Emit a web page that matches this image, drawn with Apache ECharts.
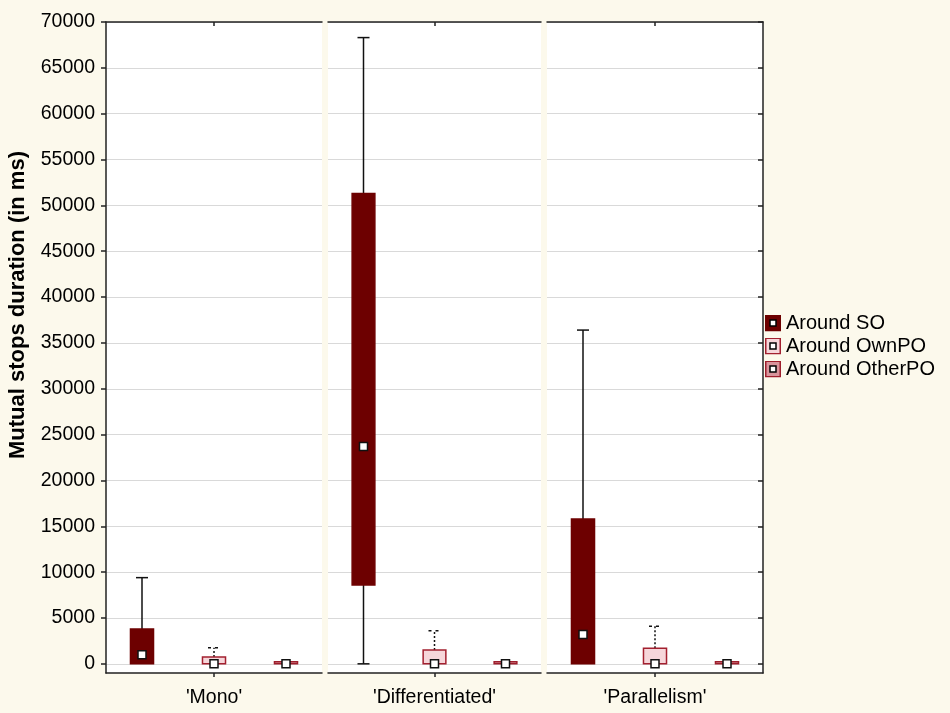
<!DOCTYPE html>
<html>
<head>
<meta charset="utf-8">
<script src="https://cdn.jsdelivr.net/npm/echarts@6/dist/echarts.min.js"></script>
<style>
html,body{margin:0;padding:0;background:#fcf9ec;}
#chart{width:950px;height:713px;}
</style>
</head>
<body>
<div id="chart"></div>
<script>
// ---- data ----
const panels = ["'Mono'", "'Differentiated'", "'Parallelism'"];
const groups = ['Around SO', 'Around OwnPO', 'Around OtherPO'];
const yTicks = [0, 5000, 10000, 15000, 20000, 25000, 30000, 35000, 40000, 45000, 50000, 55000, 60000, 65000, 70000];
const yTitle = 'Mutual stops duration (in ms)';

// per panel: Mono, Differentiated, Parallelism
const soLow  = [0, 0, 0];
const soQ1   = [0, 8600, 0];
const soMed  = [1000, 23700, 3200];
const soQ3   = [3800, 51300, 15800];
const soHigh = [9400, 68300, 36400];

const ownLow  = [0, 0, 0];
const ownQ1   = [0, 0, 0];
const ownMed  = [0, 0, 0];
const ownQ3   = [750, 1500, 1700];
const ownHigh = [1750, 3600, 4100];

const otherLow  = [0, 0, 0];
const otherQ1   = [0, 0, 0];
const otherMed  = [0, 0, 0];
const otherQ3   = [200, 80, 80];
const otherHigh = [200, 80, 80];

const stats = [
  [soLow, soQ1, soMed, soQ3, soHigh],
  [ownLow, ownQ1, ownMed, ownQ3, ownHigh],
  [otherLow, otherQ1, otherMed, otherQ3, otherHigh]
];

// ---- styles ----
const styles = [
  {fill: '#6d0000', stroke: '#6d0000', whiskerDash: null, capDash: null},
  {fill: '#f6d6da', stroke: '#a3202f', whiskerDash: [2, 2], capDash: [3, 4]},
  {fill: '#d8949c', stroke: '#9e1e2c', whiskerDash: null, capDash: null}
];
const FONT = 'Liberation Sans';

function iconSvg(fill, stroke) {
  const svg = '<svg xmlns="http://www.w3.org/2000/svg" width="16" height="17">' +
    '<rect x="0.75" y="0.75" width="14.5" height="15.5" fill="' + fill + '" stroke="' + stroke + '" stroke-width="1.5"/>' +
    '<rect x="5" y="5.5" width="6" height="6" fill="#ffffff" stroke="#000000" stroke-width="1.5"/></svg>';
  return 'image://data:image/svg+xml;utf8,' + encodeURIComponent(svg);
}

const grids = [
  {left: 106, top: 22, width: 216, height: 651},
  {left: 328, top: 22, width: 213, height: 651},
  {left: 547, top: 22, width: 216, height: 651}
];

const xAxes = [];
const yAxes = [];
const series = [];
const axisColor = '#222';

grids.forEach((g, p) => {
  xAxes.push({
    type: 'category', gridIndex: p, data: [0, 1, 2], position: 'bottom',
    axisLine: {show: true, onZero: false, lineStyle: {color: axisColor, width: 1.5}},
    axisTick: {show: true, alignWithLabel: true, interval: (i) => i === 1, length: 4,
      lineStyle: {color: axisColor, width: 1.5}},
    axisLabel: {
      interval: 0, margin: 15, fontSize: 19.5, color: '#000', fontFamily: FONT,
      formatter: (v, i) => (i === 1 ? panels[p] : '')
    },
    splitLine: {show: false}
  });
});
grids.forEach((g, p) => {
  xAxes.push({
    type: 'category', gridIndex: p, data: [0, 1, 2], position: 'top',
    axisLine: {show: true, onZero: false, lineStyle: {color: axisColor, width: 1.5}},
    axisTick: {show: true, inside: true, alignWithLabel: true, interval: (i) => i === 1, length: 4,
      lineStyle: {color: axisColor, width: 1.5}},
    axisLabel: {show: false},
    splitLine: {show: false}
  });
});

grids.forEach((g, p) => {
  yAxes.push({
    type: 'value', gridIndex: p, min: -1000, max: 70000, position: 'left',
    axisLine: {show: p === 0, onZero: false, lineStyle: {color: axisColor, width: 1.5}},
    axisTick: {show: p === 0, length: 5, customValues: yTicks, lineStyle: {color: axisColor, width: 1.5}},
    axisLabel: {show: p === 0, customValues: yTicks, fontSize: 19.5, color: '#000', margin: 11,
      fontFamily: FONT, formatter: v => String(v)},
    splitLine: {show: true, lineStyle: {color: '#d9d9d9', width: 1}}
  });
});
// right axis of last panel
yAxes.push({
  type: 'value', gridIndex: 2, position: 'right', min: -1000, max: 70000,
  axisLine: {show: true, onZero: false, lineStyle: {color: axisColor, width: 1.5}},
  axisTick: {show: true, inside: true, length: 5, customValues: yTicks, lineStyle: {color: axisColor, width: 1.5}},
  axisLabel: {show: false, customValues: yTicks},
  splitLine: {show: false}
});

function makeRender(st) {
  return function (params, api) {
    const c = api.value(0);
    const low = api.value(1), q1 = api.value(2), med = api.value(3), q3 = api.value(4), high = api.value(5);
    const w = api.size([1, 0])[0] * 0.32;
    const pHigh = api.coord([c, high]);
    const pQ3 = api.coord([c, q3]);
    const pQ1 = api.coord([c, q1]);
    const pLow = api.coord([c, low]);
    const pMed = api.coord([c, med]);
    const x = pQ3[0];
    const children = [];
    if (high > q3) {
      children.push({type: 'line', shape: {x1: x, y1: pQ3[1], x2: x, y2: pHigh[1]},
        style: {stroke: '#111', lineWidth: 1.5, lineDash: st.whiskerDash}});
      children.push({type: 'line', shape: {x1: x - 6, y1: pHigh[1], x2: x + 6, y2: pHigh[1]},
        style: {stroke: '#111', lineWidth: 1.5, lineDash: st.capDash}});
    }
    if (low < q1) {
      children.push({type: 'line', shape: {x1: x, y1: pQ1[1], x2: x, y2: pLow[1]},
        style: {stroke: '#111', lineWidth: 1.5, lineDash: st.whiskerDash}});
      children.push({type: 'line', shape: {x1: x - 6, y1: pLow[1], x2: x + 6, y2: pLow[1]},
        style: {stroke: '#111', lineWidth: 1.5, lineDash: st.capDash}});
    }
    const h = Math.max(pQ1[1] - pQ3[1], 2);
    children.push({type: 'rect', shape: {x: x - w / 2, y: pQ1[1] - h, width: w, height: h},
      style: {fill: st.fill, stroke: st.stroke, lineWidth: 1.5}});
    children.push({type: 'rect', shape: {x: x - 4, y: pMed[1] - 4, width: 8, height: 8},
      style: {fill: '#ffffff', stroke: '#111', lineWidth: 1.5}});
    return {type: 'group', children: children};
  };
}

groups.forEach((name, gi) => {
  const s = stats[gi];
  panels.forEach((pn, p) => {
    series.push({
      type: 'custom', name: name, xAxisIndex: p, yAxisIndex: p,
      itemStyle: {color: styles[gi].fill},
      renderItem: makeRender(styles[gi]),
      data: [[gi, s[0][p], s[1][p], s[2][p], s[3][p], s[4][p]]],
      z: 5
    });
  });
});

const chart = echarts.init(document.getElementById('chart'), null, {renderer: 'canvas'});
chart.setOption({
  backgroundColor: '#fcf9ec',
  animation: false,
  grid: grids.map(g => Object.assign({show: true, backgroundColor: '#ffffff', borderWidth: 0, borderColor: 'rgba(0,0,0,0)'}, g)),
  xAxis: xAxes,
  yAxis: yAxes,
  graphic: [{
    type: 'text', x: 18, y: 305, rotation: Math.PI / 2,
    style: {text: yTitle, fill: '#000', font: 'bold 22px "Liberation Sans"', textAlign: 'center', textVerticalAlign: 'middle'}
  }],
  legend: {
    orient: 'vertical', left: 760, top: 308, itemWidth: 16, itemHeight: 17, itemGap: 3,
    textStyle: {fontSize: 20, color: '#000', fontFamily: FONT},
    data: [
      {name: groups[0], icon: iconSvg('#6d0000', '#6d0000')},
      {name: groups[1], icon: iconSvg('#f6d6da', '#a3202f')},
      {name: groups[2], icon: iconSvg('#d8949c', '#9e1e2c')}
    ]
  },
  series: series
});
</script>
</body>
</html>
